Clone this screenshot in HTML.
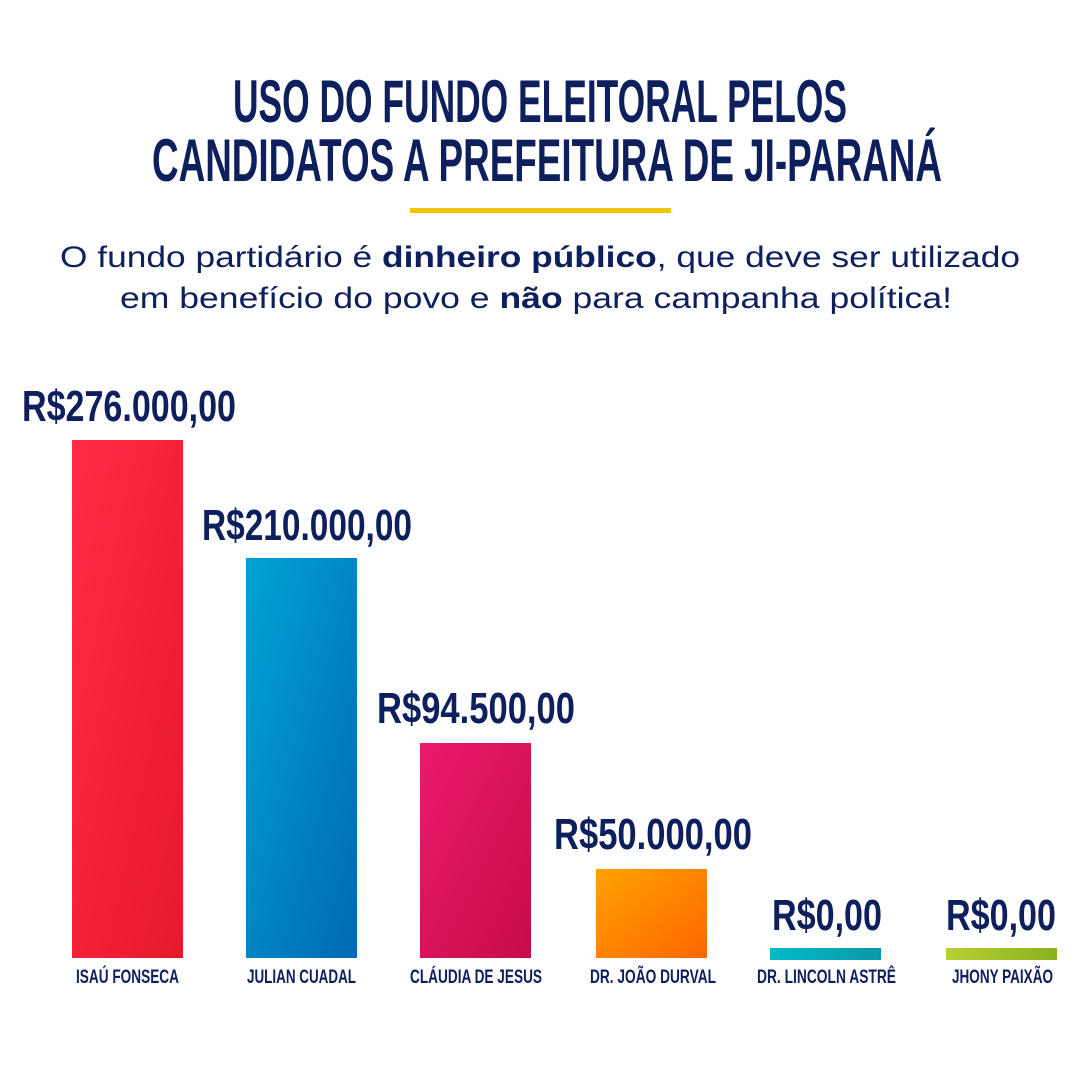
<!DOCTYPE html>
<html><head><meta charset="utf-8"><style>html,body{margin:0;padding:0;background:#fff}svg{display:block}</style></head>
<body>
<svg width="1080" height="1080" viewBox="0 0 1080 1080" xmlns="http://www.w3.org/2000/svg">
<defs>
<linearGradient id="g1" x1="0" y1="0" x2="1" y2="1"><stop offset="0" stop-color="#ff2b45"/><stop offset="1" stop-color="#e8182c"/></linearGradient>
<linearGradient id="g2" x1="0" y1="0" x2="1" y2="1"><stop offset="0" stop-color="#00a4d4"/><stop offset="1" stop-color="#0068b4"/></linearGradient>
<linearGradient id="g3" x1="0" y1="0" x2="1" y2="1"><stop offset="0" stop-color="#ea1a6c"/><stop offset="1" stop-color="#c80c48"/></linearGradient>
<linearGradient id="g4" x1="0" y1="0" x2="1" y2="1"><stop offset="0" stop-color="#ffa200"/><stop offset="1" stop-color="#ff6600"/></linearGradient>
<linearGradient id="g5" x1="0" y1="0" x2="1" y2="0"><stop offset="0" stop-color="#00bcc8"/><stop offset="1" stop-color="#0a98a8"/></linearGradient>
<linearGradient id="g6" x1="0" y1="0" x2="1" y2="0"><stop offset="0" stop-color="#b4d232"/><stop offset="1" stop-color="#8cb01e"/></linearGradient>
</defs>
<g fill="#0d1f5c" font-family="Liberation Sans, sans-serif" font-weight="bold">
<text x="233" y="122" font-size="60" textLength="614" lengthAdjust="spacingAndGlyphs">USO DO FUNDO ELEITORAL PELOS</text>
<text x="152" y="181" font-size="60" textLength="790" lengthAdjust="spacingAndGlyphs">CANDIDATOS A PREFEITURA DE JI-PARANÁ</text>
</g>
<rect x="410" y="208" width="261" height="5" fill="#f5c400"/>
<g fill="#0d1f5c" font-family="Liberation Sans, sans-serif" font-size="30">
<text x="60" y="267" textLength="960" lengthAdjust="spacingAndGlyphs">O fundo partidário é <tspan font-weight="bold">dinheiro público</tspan>, que deve ser utilizado</text>
<text x="120" y="308" textLength="832" lengthAdjust="spacingAndGlyphs">em benefício do povo e <tspan font-weight="bold">não</tspan> para campanha política!</text>
</g>
<rect x="72" y="440" width="111" height="518" fill="url(#g1)"/>
<rect x="246" y="558" width="111" height="400" fill="url(#g2)"/>
<rect x="420" y="743" width="111" height="215" fill="url(#g3)"/>
<rect x="596" y="869" width="111" height="89" fill="url(#g4)"/>
<rect x="770" y="948" width="111" height="12" fill="url(#g5)"/>
<rect x="946" y="948" width="111" height="12" fill="url(#g6)"/>
<g fill="#0d1f5c" font-family="Liberation Sans, sans-serif" font-weight="bold" font-size="44">
<text x="22" y="421" textLength="214" lengthAdjust="spacingAndGlyphs">R$276.000,00</text>
<text x="202" y="540" textLength="210" lengthAdjust="spacingAndGlyphs">R$210.000,00</text>
<text x="377" y="723" textLength="198" lengthAdjust="spacingAndGlyphs">R$94.500,00</text>
<text x="554" y="849" textLength="198" lengthAdjust="spacingAndGlyphs">R$50.000,00</text>
<text x="772" y="930" textLength="110" lengthAdjust="spacingAndGlyphs">R$0,00</text>
<text x="946" y="930" textLength="110" lengthAdjust="spacingAndGlyphs">R$0,00</text>
</g>
<g fill="#0d1f5c" font-family="Liberation Sans, sans-serif" font-weight="bold" font-size="19">
<text x="76" y="983" textLength="103" lengthAdjust="spacingAndGlyphs">ISAÚ FONSECA</text>
<text x="247" y="983" textLength="109" lengthAdjust="spacingAndGlyphs">JULIAN CUADAL</text>
<text x="410" y="983" textLength="132" lengthAdjust="spacingAndGlyphs">CLÁUDIA DE JESUS</text>
<text x="590" y="983" textLength="126" lengthAdjust="spacingAndGlyphs">DR. JOÃO DURVAL</text>
<text x="757" y="983" textLength="139" lengthAdjust="spacingAndGlyphs">DR. LINCOLN ASTRÊ</text>
<text x="952" y="983" textLength="101" lengthAdjust="spacingAndGlyphs">JHONY PAIXÃO</text>
</g>
</svg>
</body></html>
